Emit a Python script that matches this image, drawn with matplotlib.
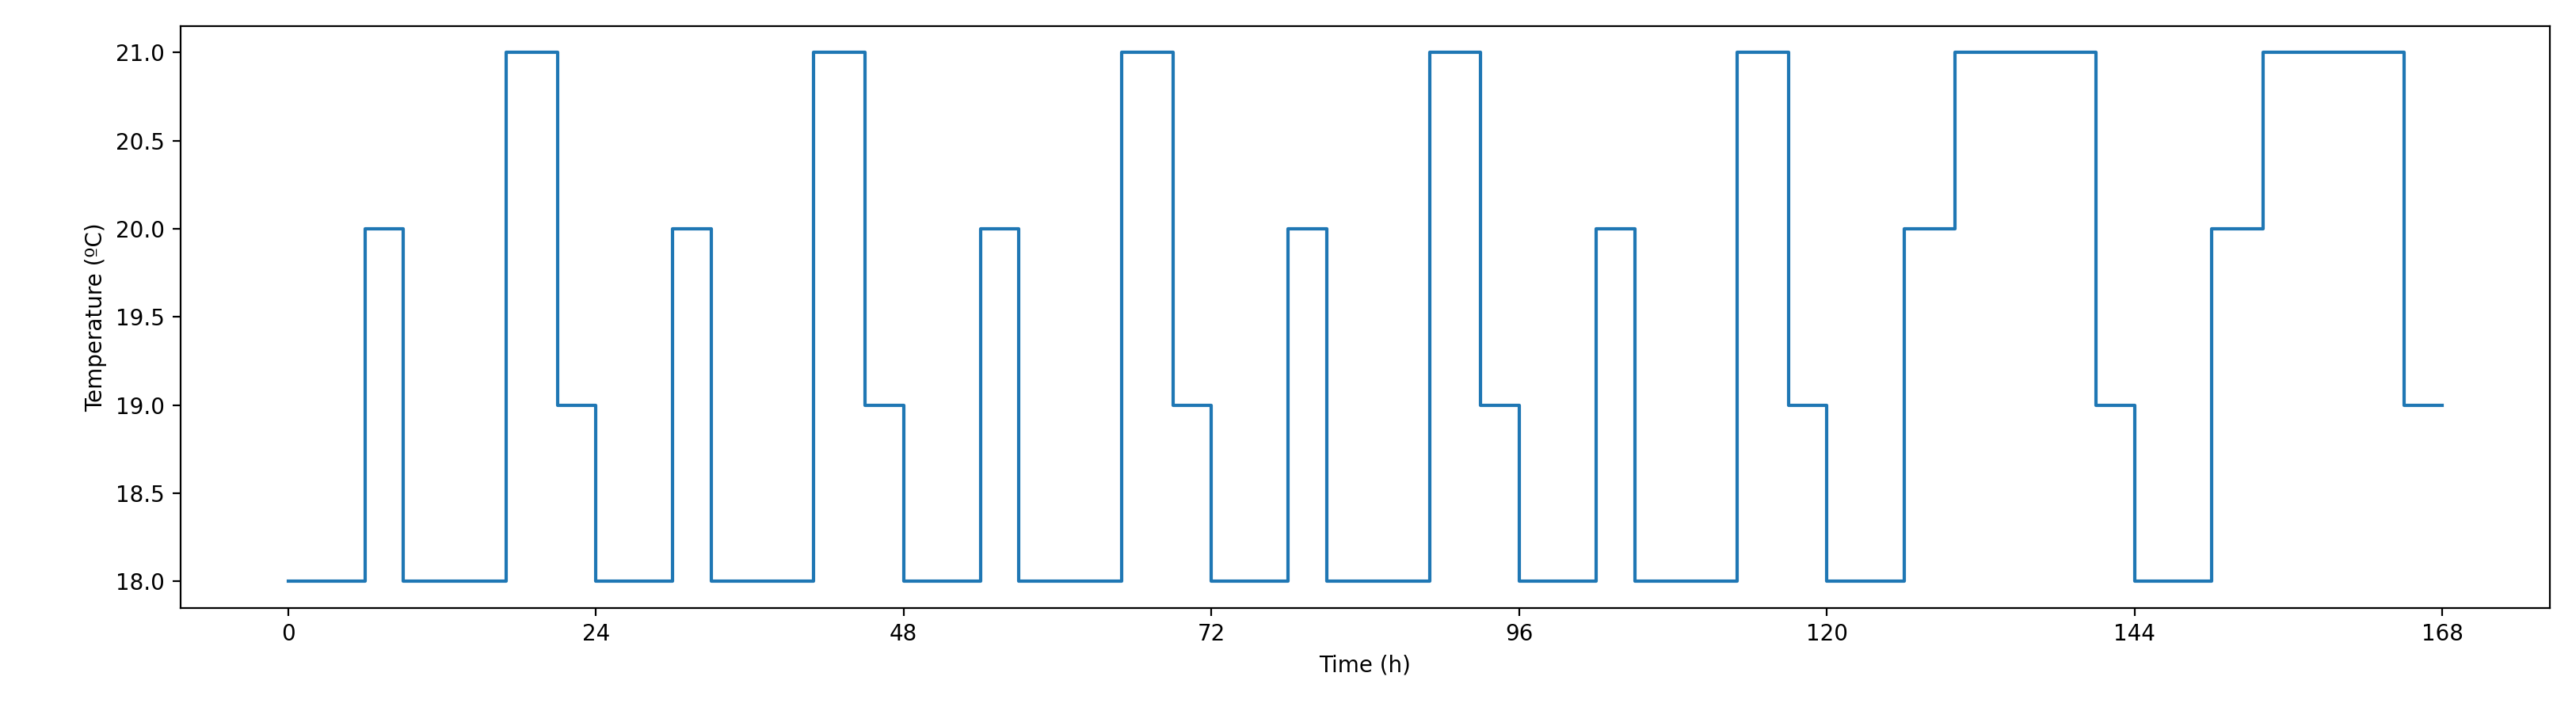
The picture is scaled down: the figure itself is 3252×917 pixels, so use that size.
import matplotlib
matplotlib.use("Agg")
import matplotlib.pyplot as plt

# Step schedule (time in h, temperature in ºC, holds until next time)
times = [0, 6, 9, 17, 21, 24,
         30, 33, 41, 45, 48,
         54, 57, 65, 69, 72,
         78, 81, 89, 93, 96,
         102, 105, 113, 117, 120,
         126, 130, 141, 144,
         150, 154, 165, 168]
temps = [18, 20, 18, 21, 19, 18,
         20, 18, 21, 19, 18,
         20, 18, 21, 19, 18,
         20, 18, 21, 19, 18,
         20, 18, 21, 19, 18,
         20, 21, 19, 18,
         20, 21, 19, 19]
xticks = [0, 24, 48, 72, 96, 120, 144, 168]

fig = plt.figure(figsize=(16.26, 4.585), dpi=200)
ax = fig.add_axes([0.070, 0.163, 0.920, 0.801])
ax.step(times, temps, where='post', color='#1f77b4', linewidth=1.5)
ax.set_xticks(xticks)
ax.set_xlabel('Time (h)')
ax.set_ylabel('Temperature (ºC)')
fig.savefig('out.png', dpi=200)
